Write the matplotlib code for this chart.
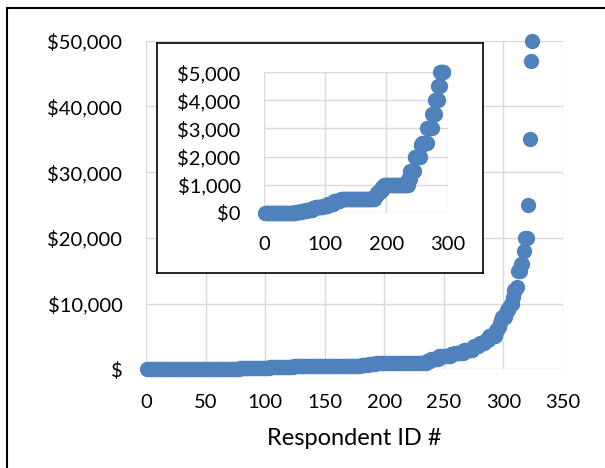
import matplotlib
matplotlib.use("Agg")
import matplotlib.pyplot as plt
import numpy as np
from matplotlib.patches import Rectangle

# donation amounts (sorted) and how many respondents gave each amount
amounts = [0, 20, 25, 50, 100, 150, 200, 250, 300, 400, 450, 500, 600, 700,
           750, 800, 900, 1000, 1200, 1500, 2000, 2400, 2500, 3000, 3500, 4000,
           4500, 5000, 6000, 6500, 7000, 7500, 8000, 8500, 9000, 9500, 10000,
           11000, 12000, 12500, 15000, 16000, 18000, 20000, 25000, 35000,
           47000, 50000]
counts = [50, 5, 5, 8, 10, 5, 12, 8, 10, 10, 2, 55, 3, 3,
          3, 3, 3, 40, 3, 7, 10, 3, 8, 8, 5, 5,
          3, 6, 2, 1, 1, 1, 3, 1, 2, 1, 2,
          1, 2, 1, 3, 2, 1, 3, 1, 1,
          1, 1]

main_xticks = [0, 50, 100, 150, 200, 250, 300, 350]
main_yticks = [0, 10000, 20000, 30000, 40000, 50000]
main_ylabels = ["$", "$10,000", "$20,000", "$30,000", "$40,000", "$50,000"]
inset_xticks = [0, 100, 200, 300]
inset_yticks = [0, 1000, 2000, 3000, 4000, 5000]
inset_ylabels = ["$0", "$1,000", "$2,000", "$3,000", "$4,000", "$5,000"]

BLUE = "#4f81bd"
GRID = "#d9d9d9"

plt.rcParams['font.family'] = ['Lato', 'DejaVu Sans']

values = np.repeat(amounts, counts)
ids = np.arange(1, len(values) + 1)

W, H = 605, 468
fig = plt.figure(figsize=(W / 100, H / 100), dpi=100)


def px_axes(left, top, right, bottom):
    return [left / W, 1 - bottom / H, (right - left) / W, (bottom - top) / H]


def style(ax, xticks, yticks, ylabels, xpad, ypad):
    ax.set_xticks(xticks)
    ax.set_yticks(yticks)
    ax.set_yticklabels(ylabels)
    ax.set_xlim(xticks[0], xticks[-1])
    ax.set_ylim(yticks[0], yticks[-1])
    ax.grid(True, color=GRID, linewidth=1.0)
    ax.set_axisbelow(True)
    for s in ax.spines.values():
        s.set_visible(False)
    ax.tick_params(axis='both', length=0, labelsize=14.5, colors='black')
    ax.tick_params(axis='x', pad=xpad)
    ax.tick_params(axis='y', pad=ypad)


# outer chart border (runs off the right and bottom of the picture)
fig.patches.append(Rectangle((6.5 / W, -0.5), 2.0, 1.5 - 7.5 / H,
                             transform=fig.transFigure, fill=False,
                             edgecolor='black', linewidth=1.5))

ax = fig.add_axes(px_axes(146, 40.8, 563, 369.3))
style(ax, main_xticks, main_yticks, main_ylabels, 18, 17)
ax.plot(ids, values, 'o', color=BLUE, markersize=11, clip_on=False,
        markeredgewidth=0)
ax.set_xlabel('Respondent ID #', fontsize=17, labelpad=12)

# inset box
box = fig.add_axes(px_axes(156.7, 43.3, 482.7, 272.7))
box.set_xticks([])
box.set_yticks([])
for s in box.spines.values():
    s.set_linewidth(1.2)
    s.set_color('black')

inset = fig.add_axes(px_axes(264.3, 72.3, 447.5, 212.7))
style(inset, inset_xticks, inset_yticks, inset_ylabels, 17, 17)
keep = (values <= inset_yticks[-1]) & (ids <= inset_xticks[-1])
inset.plot(ids[keep], values[keep], 'o', color=BLUE, markersize=11,
           clip_on=False, markeredgewidth=0)

fig.savefig('out.png', dpi=100)
